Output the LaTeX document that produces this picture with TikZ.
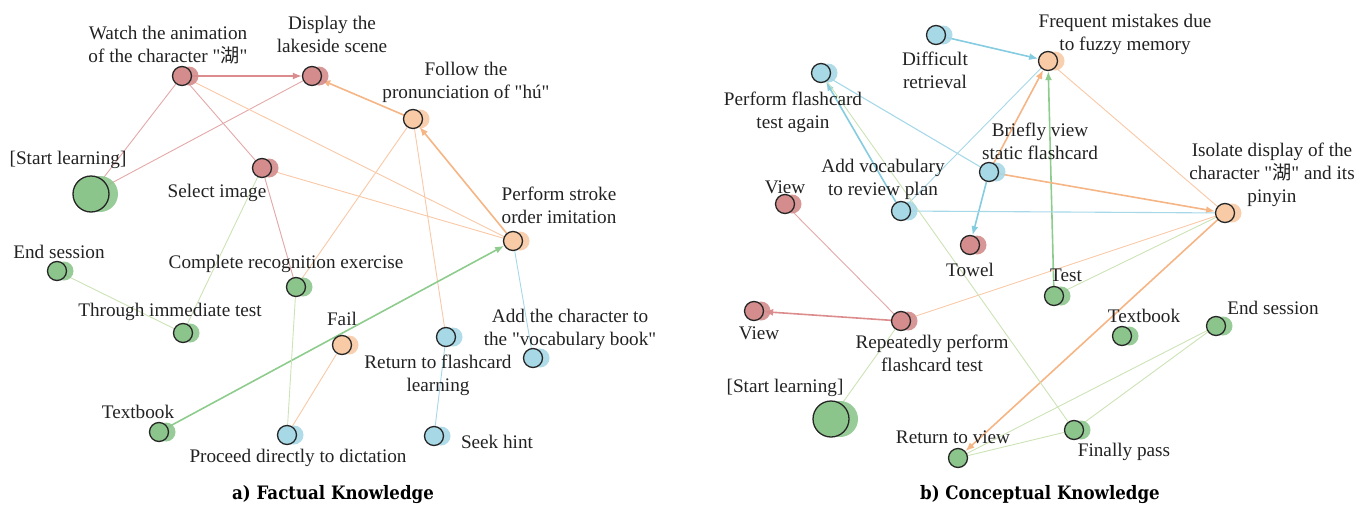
\documentclass[tikz,border=0pt]{standalone}
\usepackage{fontspec}
\setmainfont{Liberation Serif}
\newfontfamily\labelfont{Liberation Serif}
\newfontfamily\cjk{Noto Sans CJK SC}
\newfontfamily\capfont[FakeStretch=0.9]{DejaVu Serif}
\usetikzlibrary{arrows.meta}
\pgfdeclarelayer{bg}
\pgfsetlayers{bg,main}
\definecolor{redN}{HTML}{D48C8C}
\definecolor{orangeN}{HTML}{F8CBA6}
\definecolor{greenN}{HTML}{8CC58C}
\definecolor{blueN}{HTML}{A6D8E6}
\definecolor{redE}{HTML}{E4A8A8}
\definecolor{redA}{HTML}{DC8C8C}
\definecolor{orangeE}{HTML}{F9C8A6}
\definecolor{orangeA}{HTML}{F5B585}
\definecolor{greenE}{HTML}{CCE3B6}
\definecolor{greenA}{HTML}{8ECC8E}
\definecolor{blueE}{HTML}{A6D8E8}
\definecolor{blueA}{HTML}{86CCE0}
\definecolor{txt}{HTML}{222222}
\tikzset{
  lbl/.style={text=txt, font=\labelfont\fontsize{19.2}{23}\selectfont, align=center, inner sep=0pt},
  captext/.style={text=black, font=\capfont\bfseries\fontsize{18.5}{20}\selectfont, inner sep=0pt},
  thinedge/.style={line width=0.9pt},
  arr/.style={line width=1.6pt, -{Latex[length=9pt,width=7pt]}},
}
\newcommand\gn[6]{%
  \fill[#4, opacity=.9] (#2+#6,#3) circle (#5pt);
  \node[circle, draw=black!85, line width=1.3pt, fill=#4, minimum size={2*#5pt}, inner sep=0pt] (#1) at (#2,#3) {};}
\begin{document}
\begin{tikzpicture}[x=1pt,y=-1pt]
\useasboundingbox (0,0) rectangle (1370,506);
% ---------- panel a ----------
\gn{watch}{182}{76}{redN}{9.5}{7}
\gn{disp}{312}{76}{redN}{9.5}{7}
\gn{foll}{413}{119}{orangeN}{9.5}{7}
\gn{start}{91}{194}{greenN}{18}{9}
\gn{sel}{262}{168}{redN}{9.5}{7}
\gn{endA}{57}{271}{greenN}{9.5}{7}
\gn{comp}{296}{287}{greenN}{9.5}{7}
\gn{thr}{183}{333}{greenN}{9.5}{7}
\gn{fail}{342}{345}{orangeN}{9.5}{7}
\gn{textA}{159}{432}{greenN}{9.5}{7}
\gn{proc}{287}{435}{blueN}{9.5}{7}
\gn{ret}{446}{337}{blueN}{9.5}{7}
\gn{seek}{434}{436}{blueN}{9.5}{7}
\gn{addc}{533}{358}{blueN}{9.5}{7}
\gn{perf}{513}{241}{orangeN}{9.5}{7}

\node[lbl] (watchL) at (168,45) {Watch the animation\\of the character "{\cjk 湖}"};
\node[lbl] (dispL) at (332,34.5) {Display the\\lakeside scene};
\node[lbl] (follL) at (466,82.5) {Follow the\\pronunciation of "hú"};
\node[lbl] (startL) at (68,160) {[Start learning]};
\node[lbl] (selL) at (217,193) {Select image};
\node[lbl] (endAL) at (59,252) {End session};
\node[lbl] (compL) at (286,264) {Complete recognition exercise};
\node[lbl] (thrL) at (170,312) {Through immediate test};
\node[lbl] (failL) at (342,319) {Fail};
\node[lbl] (textAL) at (138,412) {Textbook};
\node[lbl] (procL) at (298,458) {Proceed directly to dictation};
\node[lbl] (retL) at (438,375) {Return to flashcard\\learning};
\node[lbl] (seekL) at (497,442) {Seek hint};
\node[lbl] (addcL) at (570,329) {Add the character to\\the "vocabulary book"};
\node[lbl] (perfL) at (559,205) {Perform stroke\\order imitation};
\node[captext] (capA) at (333,495) {a) Factual Knowledge};

\begin{pgfonlayer}{bg}
\draw[redA, arr] (watch) -- (disp);
\draw[redE, thinedge] (watch) -- (start);
\draw[redE, thinedge] (disp) -- (start);
\draw[redE, thinedge] (watch) -- (sel);
\draw[orangeE, thinedge] (watch) -- (perf);
\draw[orangeE, thinedge] (sel) -- (perf);
\draw[redE, thinedge] (sel) -- (comp);
\draw[greenE, thinedge] (sel) -- (thr);
\draw[greenE, thinedge] (endA) -- (thr);
\draw[orangeA, arr] (foll) -- (disp);
\draw[orangeE, thinedge] (foll) -- (comp);
\draw[orangeE, thinedge] (ret) -- (foll);
\draw[orangeA, arr] (perf) -- (foll);
\draw[blueE, thinedge] (perf) -- (addc);
\draw[greenA, arr] (textA) -- (perf);
\draw[greenE, thinedge] (comp) -- (proc);
\draw[orangeE, thinedge] (fail) -- (proc);
\draw[blueE, thinedge] (ret) -- (seek);
\end{pgfonlayer}

% ---------- panel b ----------
\gn{diff}{936}{35}{blueN}{9.5}{7}
\gn{again}{821}{73}{blueN}{9.5}{7}
\gn{addv}{901}{211}{blueN}{9.5}{7}
\gn{viewA}{785}{204}{redN}{9.5}{7}
\gn{brief}{989}{172}{blueN}{9.5}{7}
\gn{towel}{970}{245}{redN}{9.5}{7}
\gn{freq}{1048}{61}{orangeN}{9.5}{7}
\gn{iso}{1225}{213}{orangeN}{9.5}{7}
\gn{test}{1054}{296}{greenN}{9.5}{7}
\gn{textB}{1122}{336}{greenN}{9.5}{7}
\gn{endB}{1216}{326}{greenN}{9.5}{7}
\gn{fin}{1074}{430}{greenN}{9.5}{7}
\gn{viewB}{754}{311}{redN}{9.5}{7}
\gn{rep}{901}{321}{redN}{9.5}{7}
\gn{startB}{831}{419}{greenN}{18}{9}
\gn{retv}{958}{458}{greenN}{9.5}{0}

\node[lbl] (diffL) at (935,70) {Difficult\\retrieval};
\node[lbl] (againL) at (793,112) {Perform flashcard\\test again};
\node[lbl] (addvL) at (883,179) {Add vocabulary\\to review plan};
\node[lbl] (viewAL) at (785,187) {View};
\node[lbl] (briefL) at (1040,141) {Briefly view\\static flashcard};
\node[lbl] (towelL) at (970,270) {Towel};
\node[lbl] (freqL) at (1125,34.5) {Frequent mistakes due\\to fuzzy memory};
\node[lbl] (isoL) at (1272,175) {Isolate display of the\\character "{\cjk 湖}" and its\\pinyin};
\node[lbl] (testL) at (1066,275) {Test};
\node[lbl] (textBL) at (1144,316) {Textbook};
\node[lbl] (endBL) at (1273,308) {End session};
\node[lbl] (finL) at (1124,452) {Finally pass};
\node[lbl] (viewBL) at (759,333) {View};
\node[lbl] (repL) at (932,353) {Repeatedly perform\\flashcard test};
\node[lbl] (startBL) at (785,388) {[Start learning]};
\node[lbl] (retvL) at (953,437) {Return to view};
\node[captext] (capB) at (1040,495) {b) Conceptual Knowledge};

\begin{pgfonlayer}{bg}
\draw[blueA, arr] (diff) -- (freq);
\draw[blueE, thinedge] (addv) -- (freq);
\draw[orangeA, arr] (brief) -- (freq);
\draw[greenA, arr] (test) -- (freq);
\draw[blueE, line width=1.1pt] (brief) -- (again);
\draw[blueA, arr] (addv) -- (again);
\draw[blueA, arr] (brief) -- (towel);
\draw[orangeA, arr] (brief) -- (iso);
\draw[blueE, line width=1.1pt] (addv) -- (iso);
\draw[orangeE, thinedge] (freq) -- (iso);
\draw[orangeE, thinedge] (iso) -- (rep);
\draw[greenE, thinedge] (iso) -- (test);
\draw[orangeA, arr] (iso) -- (retv);
\draw[redE, thinedge] (viewA) -- (rep);
\draw[redA, arr] (rep) -- (viewB);
\draw[greenE, thinedge] (rep) -- (startB);
\draw[greenE, thinedge] (again) -- (fin);
\draw[greenE, thinedge] (endB) -- (retv);
\draw[greenE, thinedge] (endB) -- (fin);
\draw[greenE, thinedge] (fin) -- (retv);
\end{pgfonlayer}
\end{tikzpicture}
\end{document}
